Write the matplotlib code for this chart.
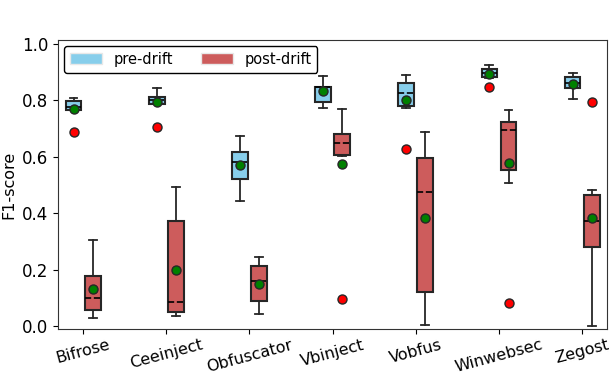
import numpy as np
import matplotlib
matplotlib.use('Agg')
import matplotlib.pyplot as plt
from matplotlib.patches import Patch

families = ['Bifrose', 'Ceeinject', 'Obfuscator', 'Vbinject', 'Vobfus', 'Winwebsec', 'Zegost']

# box stats: whislo, q1, med, q3, whishi, mean, fliers
pre_whislo = [0.765, 0.785, 0.445, 0.774, 0.772, 0.880, 0.804]
pre_q1     = [0.766, 0.787, 0.520, 0.795, 0.781, 0.882, 0.842]
pre_med    = [0.777, 0.802, 0.582, 0.847, 0.824, 0.895, 0.862]
pre_q3     = [0.798, 0.813, 0.618, 0.848, 0.860, 0.911, 0.881]
pre_whishi = [0.808, 0.842, 0.675, 0.886, 0.889, 0.926, 0.897]
pre_mean   = [0.768, 0.794, 0.569, 0.831, 0.801, 0.893, 0.859]
pre_fliers = [[0.689], [0.705], [], [], [0.629], [0.846], []]

post_whislo = [0.029, 0.036, 0.045, 0.601, 0.006, 0.508, 0.001]
post_q1     = [0.058, 0.049, 0.088, 0.605, 0.123, 0.552, 0.280]
post_med    = [0.099, 0.085, 0.162, 0.650, 0.476, 0.694, 0.374]
post_q3     = [0.179, 0.371, 0.212, 0.682, 0.595, 0.723, 0.464]
post_whishi = [0.304, 0.492, 0.245, 0.768, 0.688, 0.766, 0.484]
post_mean   = [0.131, 0.200, 0.151, 0.575, 0.382, 0.579, 0.382]
post_fliers = [[], [], [], [0.097], [], [0.082], [0.794]]


def make_stats(whislo, q1, med, q3, whishi, mean, fliers):
    stats = []
    for i in range(len(whislo)):
        stats.append(dict(whislo=whislo[i], q1=q1[i], med=med[i], q3=q3[i],
                          whishi=whishi[i], mean=mean[i], fliers=fliers[i]))
    return stats


def draw(ax, stats, positions, color):
    ax.bxp(stats, positions=positions, widths=0.19, patch_artist=True,
           showmeans=True, manage_ticks=False,
           boxprops=dict(facecolor=color, edgecolor='#262626', linewidth=1.5),
           medianprops=dict(color='black', linestyle='--', linewidth=1.2),
           whiskerprops=dict(color='#262626', linewidth=1.3),
           capprops=dict(color='#262626', linewidth=1.3),
           meanprops=dict(marker='o', markerfacecolor='green', markeredgecolor='#262626',
                          markersize=6.5),
           flierprops=dict(marker='o', markerfacecolor='red', markeredgecolor='#262626',
                           markersize=6.5))


fig, ax = plt.subplots(figsize=(6.12, 3.74), dpi=100)
fig.subplots_adjust(left=0.095, right=0.992, top=0.893, bottom=0.12)

x = np.arange(1, len(families) + 1)
draw(ax, make_stats(pre_whislo, pre_q1, pre_med, pre_q3, pre_whishi, pre_mean, pre_fliers),
     x - 0.115, 'skyblue')
draw(ax, make_stats(post_whislo, post_q1, post_med, post_q3, post_whishi, post_mean, post_fliers),
     x + 0.115, 'indianred')

ax.set_xticks(x)
ax.set_xticklabels(families, rotation=15, fontsize=11.5)
ax.tick_params(axis='x', pad=2.5)
ax.set_xlim(0.7, 7.3)
ax.set_ylim(-0.01, 1.013)
ax.set_yticks([0.0, 0.2, 0.4, 0.6, 0.8, 1.0])
ax.tick_params(axis='y', labelsize=12)
ax.set_ylabel('F1-score', fontsize=11.5)
for s in ax.spines.values():
    s.set_color('#333333')

handles = [Patch(facecolor='skyblue', edgecolor='#e8e8e8', label='pre-drift'),
           Patch(facecolor='indianred', edgecolor='#e8e8e8', label='post-drift')]
ax.legend(handles=handles, loc='upper left', ncol=2, fontsize=10.5, handlelength=2.2,
          columnspacing=1.9, edgecolor='black', framealpha=1, borderaxespad=0.4)

fig.savefig('out.png', dpi=100)
